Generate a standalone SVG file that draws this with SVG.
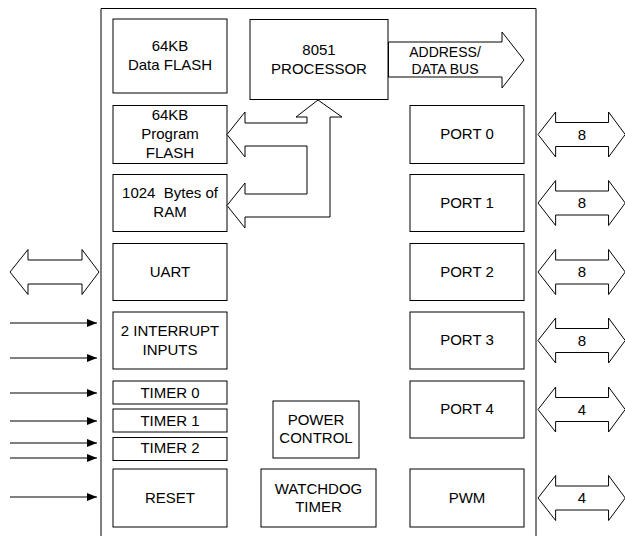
<svg xmlns="http://www.w3.org/2000/svg" width="625" height="536" viewBox="0 0 625 536">
<style>
.box{fill:#fff;stroke:#000;stroke-width:1}
.arr{fill:#fff;stroke:#000;stroke-width:1;stroke-linejoin:miter}
.ln{stroke:#000;stroke-width:1;fill:none}
text{font-family:"Liberation Sans",Arial,sans-serif;font-size:15px;fill:#000;text-anchor:middle;white-space:pre}
</style>
<defs>
<marker id="ah" markerWidth="10" markerHeight="8" refX="10" refY="4" orient="auto" markerUnits="userSpaceOnUse">
<path d="M0,0 L10,4 L0,8 Z" fill="#000"/>
</marker>
<path id="dbl" d="M0,0 L18,-22.5 L18,-12 L72,-12 L72,-22.5 L89,0 L72,22.5 L72,12 L18,12 L18,22.5 Z"/>
</defs>
<rect width="625" height="536" fill="#fff"/>
<g id="chip"><path class="ln" d="M101,540 V8.5 H536 V540" stroke-width="1.2"/></g>

<g id="data-flash"><rect class="box" x="113" y="19" width="114" height="74"/><text x="170" y="51">64KB</text><text x="170" y="70">Data FLASH</text></g>
<g id="processor"><rect class="box" x="250" y="19.5" width="138" height="80"/><text x="319" y="55">8051</text><text x="319" y="74">PROCESSOR</text></g>
<g id="program-flash"><rect class="box" x="113" y="105.5" width="114" height="58"/><text x="170" y="120">64KB</text><text x="170" y="139">Program</text><text x="170" y="158">FLASH</text></g>
<g id="ram"><rect class="box" x="113" y="174.5" width="114" height="57"/><text x="170" y="198">1024  Bytes of</text><text x="170" y="217">RAM</text></g>
<g id="uart"><rect class="box" x="113" y="243.5" width="114" height="57"/><text x="170" y="277">UART</text></g>
<g id="interrupts"><rect class="box" x="113" y="312" width="114" height="57"/><text x="170" y="336">2 INTERRUPT</text><text x="170" y="355">INPUTS</text></g>
<g id="timer0"><rect class="box" x="113" y="381" width="114" height="23"/><text x="170" y="398">TIMER 0</text></g>
<g id="timer1"><rect class="box" x="113" y="409" width="114" height="23"/><text x="170" y="426">TIMER 1</text></g>
<g id="timer2"><rect class="box" x="113" y="437.5" width="114" height="23"/><text x="170" y="453">TIMER 2</text></g>
<g id="reset"><rect class="box" x="113" y="469" width="114" height="58"/><text x="170" y="503">RESET</text></g>
<g id="power"><rect class="box" x="273" y="401" width="86" height="57"/><text x="316" y="425">POWER</text><text x="316" y="443">CONTROL</text></g>
<g id="watchdog"><rect class="box" x="261" y="469" width="115" height="58"/><text x="318.5" y="494">WATCHDOG</text><text x="318.5" y="512">TIMER</text></g>
<g id="port0"><rect class="box" x="410" y="105.5" width="114" height="58"/><text x="467" y="139">PORT 0</text></g>
<g id="port1"><rect class="box" x="410" y="174.5" width="114" height="57"/><text x="467" y="208">PORT 1</text></g>
<g id="port2"><rect class="box" x="410" y="243.5" width="114" height="57"/><text x="467" y="277">PORT 2</text></g>
<g id="port3"><rect class="box" x="410" y="312" width="114" height="57"/><text x="467" y="345">PORT 3</text></g>
<g id="port4"><rect class="box" x="410" y="381" width="114" height="57"/><text x="467" y="414">PORT 4</text></g>
<g id="pwm"><rect class="box" x="410" y="469" width="114" height="58"/><text x="467" y="503">PWM</text></g>

<g id="connectors">
<path class="arr" d="M318,100 L342,117 L330,117 L330,217 L245,217 L245,228 L227,205.5 L245,183 L245,194 L307,194 L307,146 L245,146 L245,157 L227,134.5 L245,112 L245,123 L307,123 L307,117 L296,117 Z"/>
<path class="arr" d="M388.5,42 L502,42 L502,32 L524,60 L502,88 L502,77 L388.5,77 Z"/>
<text x="445" y="57" style="font-size:14px">ADDRESS/</text>
<text x="445" y="74" style="font-size:14px">DATA BUS</text>
<use href="#dbl" class="arr" transform="translate(10,272)"/>
<use href="#dbl" class="arr" transform="translate(538,134.5) scale(0.98,1)"/>
<use href="#dbl" class="arr" transform="translate(538,203) scale(0.98,1)"/>
<use href="#dbl" class="arr" transform="translate(538,272) scale(0.98,1)"/>
<use href="#dbl" class="arr" transform="translate(538,340.5) scale(0.98,1)"/>
<use href="#dbl" class="arr" transform="translate(538,409.5) scale(0.98,1)"/>
<use href="#dbl" class="arr" transform="translate(538,498) scale(0.98,1)"/>
<text x="582" y="139.5">8</text>
<text x="582" y="208">8</text>
<text x="582" y="277">8</text>
<text x="582" y="345.5">8</text>
<text x="582" y="414.5">4</text>
<text x="582" y="503">4</text>
<line class="ln" x1="10" y1="323" x2="97" y2="323" marker-end="url(#ah)"/>
<line class="ln" x1="10" y1="358" x2="97" y2="358" marker-end="url(#ah)"/>
<line class="ln" x1="10" y1="393" x2="97" y2="393" marker-end="url(#ah)"/>
<line class="ln" x1="10" y1="421" x2="97" y2="421" marker-end="url(#ah)"/>
<line class="ln" x1="10" y1="443" x2="97" y2="443" marker-end="url(#ah)"/>
<line class="ln" x1="10" y1="458" x2="97" y2="458" marker-end="url(#ah)"/>
<line class="ln" x1="10" y1="497" x2="97" y2="497" marker-end="url(#ah)"/>
</g>
</svg>
